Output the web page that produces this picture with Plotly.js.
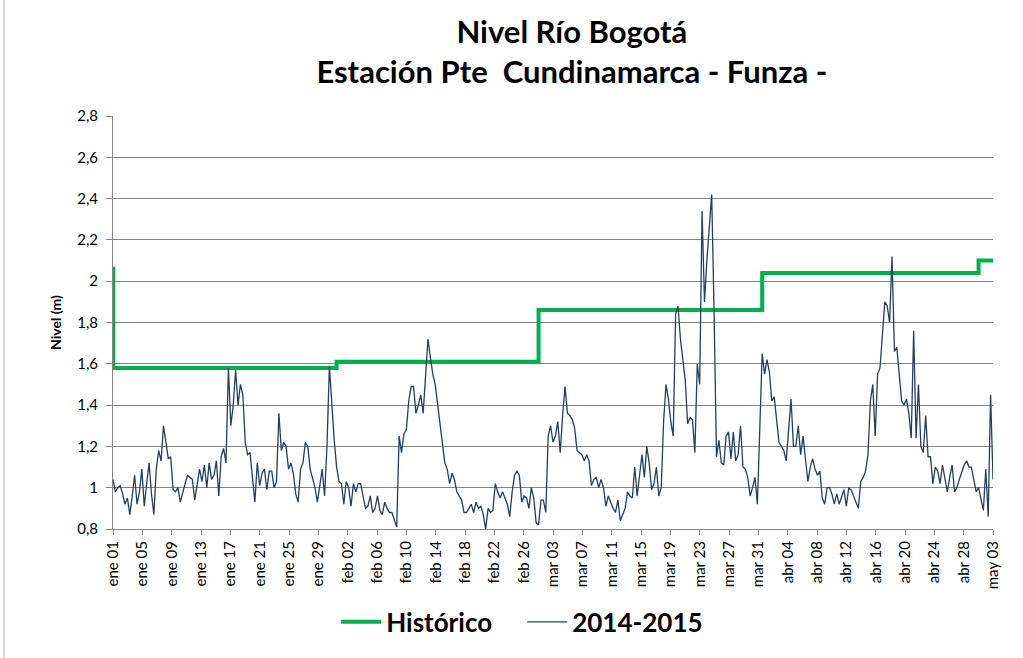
<!DOCTYPE html>
<html>
<head>
<meta charset="utf-8">
<script src="https://cdn.plot.ly/plotly-3.0.1.min.js"></script>
<style>
  html, body { margin: 0; padding: 0; background: #ffffff; }
  #chart { width: 1023px; height: 658px; }
</style>
</head>
<body>
<div id="chart"></div>
<script>
// ---- Data ----
// Serie 2014-2015: nivel (m), una lectura cada 8 horas desde 2015-01-01 00:00 hasta 2015-05-03 00:00
const seriesStart = "2015-01-01";
const seriesStepHours = 8;
const nivel20142015 = [
  1.04,0.98,1.00,1.01,0.97,0.92,0.95,0.87,0.96,1.06,
  0.92,0.98,1.09,0.91,1.02,1.12,0.97,0.87,1.09,1.18,
  1.13,1.30,1.22,1.14,1.15,0.99,0.98,1.00,0.93,0.98,
  1.02,1.06,1.05,1.04,0.94,1.01,1.09,1.03,1.11,1.00,
  1.12,1.04,1.06,1.13,0.96,1.15,1.19,1.12,1.58,1.30,
  1.40,1.57,1.40,1.50,1.45,1.22,1.16,1.17,1.05,0.93,
  1.12,1.01,1.07,1.09,0.99,1.08,1.08,1.00,1.03,1.36,
  1.18,1.22,1.20,1.09,1.12,1.07,0.97,0.93,1.09,1.12,
  1.22,1.20,1.09,1.05,1.00,0.93,1.02,1.09,0.96,1.20,
  1.59,1.40,1.23,1.10,1.03,1.02,0.92,1.03,1.00,0.91,
  1.02,0.98,1.02,1.02,0.96,0.90,0.91,0.96,0.88,0.90,
  0.96,0.89,0.87,0.93,0.90,0.88,0.88,0.84,0.81,1.25,
  1.17,1.26,1.28,1.42,1.49,1.49,1.36,1.40,1.45,1.36,
  1.52,1.72,1.63,1.55,1.50,1.40,1.30,1.23,1.12,1.09,
  1.02,1.07,1.04,0.98,0.96,0.94,0.88,0.88,0.90,0.92,
  0.88,0.93,0.90,0.91,0.87,0.80,0.90,0.88,0.89,1.02,
  0.98,0.95,0.98,0.95,0.92,0.86,0.98,1.06,1.08,1.06,
  0.93,0.96,0.95,0.90,1.00,0.95,0.83,0.82,0.94,0.94,
  0.88,1.25,1.30,1.22,1.25,1.32,1.17,1.35,1.49,1.36,
  1.35,1.33,1.29,1.18,1.17,1.16,1.13,1.16,1.13,1.01,
  1.04,1.05,1.00,1.04,1.00,0.91,0.96,0.93,0.90,0.88,
  0.94,0.84,0.87,0.90,0.98,0.96,0.95,1.10,0.96,1.06,
  1.16,1.05,1.20,1.12,0.99,1.02,1.10,0.96,1.00,1.32,
  1.50,1.43,1.32,1.25,1.84,1.88,1.72,1.62,1.52,1.31,
  1.34,1.33,1.17,1.60,1.50,2.34,1.90,2.10,2.25,2.42,
  1.85,1.15,1.23,1.12,1.11,1.25,1.27,1.14,1.27,1.13,
  1.16,1.30,1.10,1.09,1.05,0.96,1.00,1.05,0.92,1.33,
  1.65,1.55,1.62,1.56,1.42,1.44,1.34,1.22,1.20,1.18,
  1.13,1.30,1.43,1.20,1.20,1.30,1.16,1.25,1.15,1.03,
  1.10,1.14,1.09,1.06,1.08,0.95,0.92,1.00,1.00,0.97,
  0.92,0.97,0.92,0.96,0.99,0.91,1.00,0.99,0.96,0.93,
  0.90,1.03,1.05,1.08,1.16,1.42,1.50,1.25,1.55,1.58,
  1.74,1.90,1.88,1.80,2.12,1.66,1.68,1.54,1.42,1.40,
  1.43,1.36,1.24,1.76,1.24,1.50,1.20,1.17,1.35,1.15,
  1.15,1.02,1.10,1.08,1.02,1.11,1.04,0.98,1.05,1.11,
  0.98,1.00,1.04,1.08,1.11,1.13,1.10,1.10,1.03,0.98,
  1.00,0.95,0.89,1.09,0.86,1.45,1.04
];

// Histórico: valor de referencia por mes (cambia al inicio de cada mes)
const historicoFechas  = ["2015-01-01 00:00", "2015-01-01 01:00", "2015-02-01", "2015-03-01", "2015-04-01", "2015-05-01", "2015-05-03"];
const historicoValores = [2.06, 1.58, 1.61, 1.86, 2.04, 2.10, 2.10];

// Etiquetas del eje X
const xTickLabels = [
  "ene 01","ene 05","ene 09","ene 13","ene 17","ene 21","ene 25","ene 29",
  "feb 02","feb 06","feb 10","feb 14","feb 18","feb 22","feb 26",
  "mar 03","mar 07","mar 11","mar 15","mar 19","mar 23","mar 27","mar 31",
  "abr 04","abr 08","abr 12","abr 16","abr 20","abr 24","abr 28",
  "may 03"
];
const xRange = ["2015-01-01", "2015-05-03"];

// ---- Build ----
function fmt(ms) {
  return new Date(ms).toISOString().slice(0, 19).replace("T", " ");
}
const t0 = Date.parse(seriesStart + "T00:00:00Z");
const serieFechas = nivel20142015.map((_, i) => fmt(t0 + i * seriesStepHours * 3600000));

const r0 = Date.parse(xRange[0] + "T00:00:00Z");
const r1 = Date.parse(xRange[1] + "T00:00:00Z");
const nInt = xTickLabels.length - 1;
const xTickVals = xTickLabels.map((_, k) => fmt(r0 + (r1 - r0) * k / nInt));

const FONT = "Lato, 'Open Sans', 'Liberation Sans', sans-serif";

const traces = [
  {
    type: "scatter", mode: "lines", name: "Histórico",
    x: historicoFechas, y: historicoValores,
    line: { color: "#00B050", width: 4, shape: "hv" }
  },
  {
    type: "scatter", mode: "lines", name: "2014-2015",
    x: serieFechas, y: nivel20142015,
    line: { color: "#243F63", width: 1.3 }
  }
];

const layout = {
  width: 1023, height: 658,
  paper_bgcolor: "#ffffff", plot_bgcolor: "#ffffff",
  separators: ",.",
  margin: { l: 113, r: 30, t: 116, b: 127, pad: 0 },
  font: { family: FONT, color: "#000000" },
  title: {
    text: "Nivel Río Bogotá<br>Estación Pte\u00a0 Cundinamarca - Funza -",
    font: { family: FONT, size: 31, color: "#000000", weight: "bold" },
    x: 0.559, xanchor: "center", xref: "container",
    y: 0.935, yanchor: "top", yref: "container"
  },
  showlegend: true,
  legend: {
    orientation: "h", x: 0.465, xanchor: "center", y: -0.225, yanchor: "middle",
    font: { family: FONT, size: 26, color: "#000000", weight: "bold" },
    entrywidth: 131, entrywidthmode: "pixels",
    itemwidth: 40, tracegroupgap: 0
  },
  xaxis: {
    type: "date", range: xRange,
    tickmode: "array", tickvals: xTickVals, ticktext: xTickLabels,
    tickangle: -90,
    tickfont: { family: FONT, size: 15, color: "#000000" },
    ticks: "outside", ticklen: 5, tickcolor: "#868686", tickwidth: 1,
    showgrid: false, zeroline: false,
    showline: true, linecolor: "#868686", linewidth: 1
  },
  yaxis: {
    range: [0.8, 2.8], dtick: 0.2, tick0: 0.8,
    tickfont: { family: FONT, size: 15, color: "#000000" },
    ticks: "outside", ticklen: 6, tickcolor: "#868686", tickwidth: 1,
    ticklabelstandoff: 5,
    showgrid: true, gridcolor: "#868686", gridwidth: 1,
    zeroline: false,
    showline: true, linecolor: "#868686", linewidth: 1,
    title: { text: "Nivel (m)", font: { family: FONT, size: 14, color: "#000000", weight: "bold" }, standoff: 12 }
  },
  shapes: [
    { type: "line", xref: "paper", yref: "paper", x0: -0.124, x1: -0.124, y0: -0.32, y1: 1.3,
      line: { color: "#d9d9d9", width: 2 } }
  ]
};

Plotly.newPlot("chart", traces, layout, { displayModeBar: false, staticPlot: true });
</script>
</body>
</html>
